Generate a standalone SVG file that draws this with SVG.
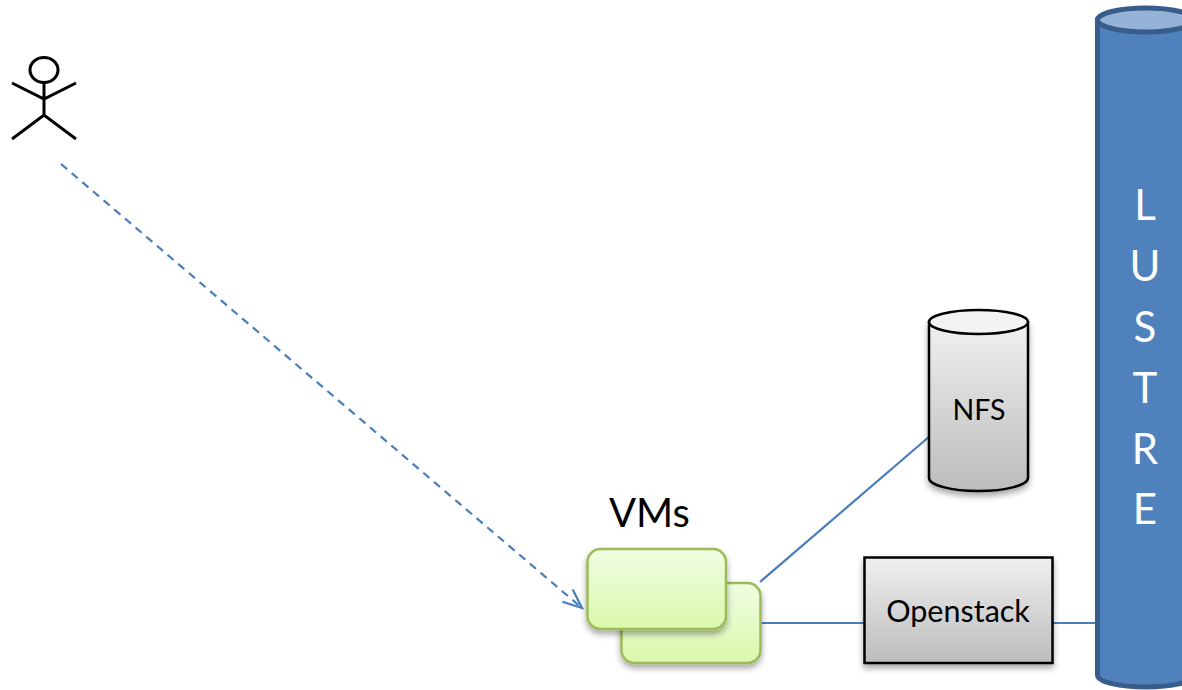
<svg xmlns="http://www.w3.org/2000/svg" width="1182" height="690" viewBox="0 0 1182 690">
<style>
text{font-family:Lato,"Liberation Sans",sans-serif;fill:#000}
.conn{fill:none;stroke:#4a7ebb;stroke-width:2.2}
.actor{fill:none;stroke:#000;stroke-width:3}
.grey{stroke:#000;stroke-width:2.5;fill:url(#grey);filter:url(#sh)}
.green{stroke:#9bbb59;stroke-width:2.5;fill:url(#green);filter:url(#sh)}
.lus{font-size:42px;fill:#fff;text-anchor:middle}
</style>
<defs>
<linearGradient id="grey" x1="0" y1="0" x2="0" y2="1"><stop offset="0" stop-color="#f0f0f0"/><stop offset="1" stop-color="#bcbcbc"/></linearGradient>
<linearGradient id="green" x1="0" y1="0" x2="0" y2="1"><stop offset="0" stop-color="#f1fde3"/><stop offset="1" stop-color="#daf8ab"/></linearGradient>
<filter id="sh" x="-15%" y="-15%" width="130%" height="130%"><feDropShadow dx="0" dy="4" stdDeviation="3" flood-color="#000" flood-opacity="0.35"/></filter>
<marker id="open" markerUnits="userSpaceOnUse" markerWidth="26" markerHeight="26" refX="23" refY="13" orient="auto"><path d="M4 5L23 13L4 21" fill="none" stroke="#4a7ebb" stroke-width="2.2"/></marker>
</defs>
<g id="connectors">
<path class="conn" d="M61 164L582 608" stroke-dasharray="8 6" marker-end="url(#open)"/>
<path class="conn" d="M760 582L930 436"/>
<path class="conn" d="M760 623H865"/>
<path class="conn" d="M1052 623H1097"/>
</g>
<g id="actor" class="actor">
<ellipse cx="44" cy="70" rx="14" ry="12.5"/>
<path d="M44 83V115M12 83L44 99L76 83M12 139L44 115L76 139"/>
</g>
<g id="vm-back"><rect class="green" x="621.500" y="583" width="139" height="80" rx="13"/></g>
<g id="vm-front"><rect class="green" x="587.500" y="549" width="138.500" height="80" rx="13"/></g>
<g id="vms-label"><text x="609" y="527" font-size="40">VMs</text></g>
<g id="nfs">
<path class="grey" d="M929 322V478C929 485 951 491 978.500 491C1006 491 1028 485 1028 478V322Z"/>
<ellipse cx="978.500" cy="322" rx="49.500" ry="12" fill="#f2f2f2" stroke="#000" stroke-width="2.500"/>
<text x="979" y="420" font-size="28.500" text-anchor="middle">NFS</text>
</g>
<g id="openstack">
<rect class="grey" x="864.500" y="557.500" width="188" height="105.500"/>
<text x="958" y="622" font-size="30.500" text-anchor="middle">Openstack</text>
</g>
<g id="lustre">
<path d="M1097.500 20V675C1097.500 682 1120 687 1146 687C1172 687 1194 682 1194 675V20Z" fill="#4f81bd" stroke="#385d8a" stroke-width="5"/>
<ellipse cx="1145.750" cy="20" rx="48.250" ry="12" fill="#95b3d7" stroke="#385d8a" stroke-width="5"/>
<text class="lus" x="1145" y="220">L</text>
<text class="lus" x="1145" y="281">U</text>
<text class="lus" x="1145" y="342">S</text>
<text class="lus" x="1145" y="403">T</text>
<text class="lus" x="1145" y="464">R</text>
<text class="lus" x="1145" y="524">E</text>
</g>
</svg>
